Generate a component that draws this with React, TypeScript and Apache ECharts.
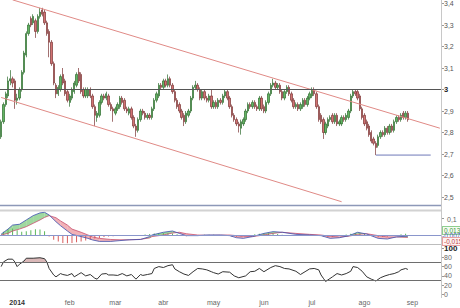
import React, { useEffect, useRef } from 'react';
import * as echarts from 'echarts';

// ---------- categories: trading days (weekdays) ----------
const firstDay = '2013-12-23';
const lastDay = '2014-09-17';
const dates: string[] = (() => {
  const out: string[] = [];
  const d = new Date(firstDay + 'T00:00:00Z');
  const end = new Date(lastDay + 'T00:00:00Z');
  while (d <= end) {
    const wd = d.getUTCDay();
    if (wd !== 0 && wd !== 6) out.push(d.toISOString().slice(0, 10));
    d.setUTCDate(d.getUTCDate() + 1);
  }
  return out;
})();
const monthNames = ['2014', 'feb', 'mar', 'abr', 'may', 'jun', 'jul', 'ago', 'sep', 'oct', 'nov', 'dic'];

// ---------- price: [open, close, low, high] ----------
const candles: number[][] = [
  [2.78, 2.85, 2.77, 2.86], [2.85, 2.93, 2.84, 2.94], [2.93, 2.98, 2.92, 2.99], [2.97, 3.04, 2.96, 3.06],
  [3.04, 3.05, 3.02, 3.09], [3.05, 3.03, 3.01, 3.06], [3.04, 2.95, 2.91, 3.05], [2.95, 2.96, 2.93, 2.98],
  [2.96, 3.00, 2.95, 3.01], [3.00, 3.08, 2.99, 3.09], [3.08, 3.17, 3.07, 3.18], [3.16, 3.26, 3.15, 3.27],
  [3.26, 3.30, 3.25, 3.31], [3.33, 3.30, 3.29, 3.34], [3.31, 3.34, 3.30, 3.35], [3.32, 3.27, 3.24, 3.33],
  [3.27, 3.34, 3.26, 3.35], [3.34, 3.36, 3.33, 3.38], [3.37, 3.35, 3.34, 3.38], [3.36, 3.31, 3.30, 3.37],
  [3.31, 3.26, 3.25, 3.32], [3.27, 3.22, 3.15, 3.28], [3.22, 3.12, 3.11, 3.23], [3.12, 3.03, 3.02, 3.13],
  [3.02, 2.98, 2.96, 3.03], [2.98, 3.01, 2.97, 3.02], [3.00, 3.06, 2.99, 3.07], [3.07, 3.03, 3.02, 3.10],
  [3.04, 2.98, 2.97, 3.05], [2.99, 2.95, 2.94, 3.00], [2.94, 2.97, 2.92, 2.98], [2.96, 3.00, 2.95, 3.01],
  [2.99, 3.03, 2.98, 3.04], [3.02, 3.07, 3.01, 3.08], [3.08, 3.04, 3.03, 3.10], [3.07, 2.99, 2.98, 3.08],
  [3.00, 2.97, 2.96, 3.01], [2.97, 3.00, 2.96, 3.01], [2.97, 3.00, 2.96, 3.01], [3.00, 2.97, 2.96, 3.01],
  [2.97, 2.92, 2.91, 2.98], [2.92, 2.88, 2.83, 2.93], [2.87, 2.89, 2.85, 2.90], [2.88, 2.94, 2.87, 2.95],
  [2.94, 2.97, 2.93, 2.98], [2.97, 2.96, 2.95, 2.98], [2.96, 2.98, 2.95, 2.99], [2.97, 2.93, 2.92, 2.98],
  [2.93, 2.91, 2.90, 2.94], [2.91, 2.90, 2.85, 2.92], [2.89, 2.91, 2.88, 2.92], [2.91, 2.93, 2.90, 2.94],
  [2.92, 2.96, 2.91, 2.97], [2.96, 2.94, 2.93, 2.97], [2.95, 2.91, 2.90, 2.96], [2.91, 2.90, 2.89, 2.92],
  [2.89, 2.91, 2.88, 2.92], [2.91, 2.87, 2.86, 2.92], [2.87, 2.83, 2.82, 2.88], [2.83, 2.81, 2.78, 2.84],
  [2.81, 2.86, 2.80, 2.87], [2.86, 2.90, 2.85, 2.91], [2.90, 2.89, 2.88, 2.91], [2.89, 2.87, 2.86, 2.90],
  [2.87, 2.88, 2.86, 2.89], [2.88, 2.87, 2.86, 2.89], [2.87, 2.91, 2.86, 2.92], [2.91, 2.95, 2.90, 2.96],
  [2.95, 2.98, 2.94, 2.99], [2.97, 3.02, 2.96, 3.03], [3.02, 3.01, 3.00, 3.03], [3.01, 3.04, 3.00, 3.05],
  [3.04, 3.02, 3.01, 3.05], [3.02, 3.05, 3.01, 3.07], [3.05, 3.02, 3.01, 3.06], [3.02, 2.99, 2.98, 3.03],
  [2.99, 2.95, 2.94, 3.00], [2.95, 2.92, 2.91, 2.96], [2.93, 2.90, 2.89, 2.94], [2.90, 2.87, 2.86, 2.91],
  [2.88, 2.85, 2.83, 2.89], [2.85, 2.89, 2.84, 2.90], [2.88, 2.90, 2.87, 2.91], [2.90, 2.96, 2.89, 2.97],
  [2.96, 3.01, 2.95, 3.02], [3.01, 3.02, 3.00, 3.04], [3.02, 3.00, 2.99, 3.03], [3.00, 2.96, 2.95, 3.01],
  [2.96, 2.99, 2.95, 3.00], [2.99, 2.96, 2.95, 3.00], [2.96, 2.95, 2.94, 2.97], [2.95, 2.97, 2.94, 2.98],
  [2.97, 2.92, 2.91, 3.00], [2.92, 2.94, 2.91, 2.95], [2.94, 2.92, 2.91, 2.95], [2.92, 2.95, 2.91, 2.96],
  [2.95, 2.94, 2.93, 2.96], [2.94, 2.97, 2.93, 2.98], [2.97, 2.99, 2.96, 3.00], [2.99, 2.96, 2.95, 3.00],
  [2.96, 2.92, 2.91, 2.97], [2.92, 2.88, 2.87, 2.93], [2.88, 2.86, 2.85, 2.89], [2.86, 2.84, 2.83, 2.87],
  [2.84, 2.83, 2.80, 2.85], [2.82, 2.85, 2.79, 2.86], [2.84, 2.86, 2.83, 2.87], [2.86, 2.90, 2.85, 2.91],
  [2.90, 2.93, 2.89, 2.94], [2.93, 2.92, 2.91, 2.94], [2.92, 2.94, 2.91, 2.95], [2.94, 2.92, 2.91, 2.95],
  [2.92, 2.91, 2.90, 2.93], [2.91, 2.96, 2.90, 2.97], [2.96, 2.91, 2.90, 2.97], [2.92, 2.90, 2.89, 2.93],
  [2.90, 2.94, 2.89, 2.95], [2.94, 2.98, 2.93, 2.99], [2.98, 3.02, 2.97, 3.03], [3.02, 3.03, 3.01, 3.05],
  [3.03, 3.01, 3.00, 3.04], [3.01, 3.02, 3.00, 3.03], [3.02, 2.99, 2.98, 3.03], [2.99, 2.96, 2.95, 3.00],
  [2.96, 2.99, 2.95, 3.00], [2.99, 3.01, 2.98, 3.02], [3.01, 2.98, 2.97, 3.02], [2.98, 2.95, 2.94, 2.99],
  [2.95, 2.92, 2.91, 2.96], [2.92, 2.93, 2.91, 2.94], [2.93, 2.91, 2.90, 2.94], [2.91, 2.93, 2.90, 2.94],
  [2.92, 2.95, 2.91, 2.96], [2.95, 2.93, 2.92, 2.96], [2.93, 2.96, 2.92, 2.97], [2.96, 2.98, 2.95, 2.99],
  [2.97, 3.00, 2.96, 3.01], [3.00, 2.98, 2.97, 3.01], [2.98, 2.92, 2.91, 2.99], [2.92, 2.86, 2.85, 2.93],
  [2.88, 2.85, 2.84, 2.89], [2.86, 2.80, 2.77, 2.87], [2.80, 2.84, 2.79, 2.85], [2.83, 2.86, 2.82, 2.87],
  [2.86, 2.87, 2.85, 2.88], [2.88, 2.85, 2.84, 2.89], [2.85, 2.88, 2.84, 2.89], [2.88, 2.84, 2.83, 2.89],
  [2.84, 2.85, 2.83, 2.86], [2.84, 2.87, 2.83, 2.88], [2.87, 2.86, 2.85, 2.88], [2.86, 2.88, 2.85, 2.89],
  [2.87, 2.90, 2.86, 2.91], [2.90, 2.97, 2.89, 2.98], [2.97, 2.99, 2.96, 3.00], [2.99, 2.98, 2.97, 3.00],
  [2.99, 2.96, 2.95, 3.00], [2.97, 2.91, 2.90, 2.98], [2.91, 2.87, 2.86, 2.92], [2.88, 2.84, 2.83, 2.89],
  [2.85, 2.82, 2.81, 2.86], [2.83, 2.79, 2.78, 2.84], [2.80, 2.76, 2.75, 2.81], [2.77, 2.75, 2.74, 2.78],
  [2.75, 2.73, 2.695, 2.76], [2.74, 2.78, 2.73, 2.79], [2.78, 2.80, 2.77, 2.81], [2.80, 2.79, 2.78, 2.81],
  [2.79, 2.82, 2.78, 2.83], [2.82, 2.80, 2.79, 2.83], [2.80, 2.83, 2.79, 2.84], [2.83, 2.81, 2.80, 2.84],
  [2.81, 2.85, 2.80, 2.86], [2.85, 2.87, 2.84, 2.88], [2.87, 2.86, 2.85, 2.88], [2.86, 2.88, 2.85, 2.89],
  [2.89, 2.87, 2.86, 2.90], [2.87, 2.89, 2.86, 2.90], [2.89, 2.86, 2.85, 2.90],
];

// ---------- drawn lines on price panel: [trading-day index, price] ----------
const upperTrend = [[5, 3.417], [192, 2.82]];
const lowerTrend = [[0, 2.963], [149, 2.478]];
const supportLine = [[164, 2.695], [188, 2.695]];
const levelLine = 3.0;
const lastPrice = 2.86;

// ---------- MACD panel: [trading-day index, value] ----------
const macdLine = [
  [0, 0.005], [3, 0.037], [5, 0.062], [8, 0.067], [11, 0.094], [14, 0.121], [17, 0.138], [19, 0.142],
  [21, 0.125], [24, 0.083], [26, 0.058], [29, 0.025], [31, 0.004], [35, -0.01], [38, -0.021], [40, -0.031],
  [43, -0.04], [48, -0.04], [52, -0.035], [56, -0.03], [61, -0.028], [65, -0.01], [66, 0.0], [71, 0.017],
  [75, 0.025], [78, 0.01], [81, -0.004], [86, -0.004], [90, 0.0], [96, 0.0], [100, -0.004], [103, -0.017],
  [106, -0.021], [110, -0.01], [115, 0.01], [119, 0.021], [123, 0.017], [129, 0.004], [135, 0.0], [140, -0.004],
  [144, -0.021], [148, -0.017], [152, -0.005], [156, 0.017], [160, 0.006], [165, -0.021], [169, -0.025], [173, -0.012],
  [178, -0.007],
];
const signalLine = [
  [0, 0.0], [3, 0.01], [5, 0.025], [8, 0.037], [11, 0.052], [14, 0.073], [17, 0.094], [19, 0.11],
  [21, 0.121], [24, 0.108], [26, 0.088], [29, 0.062], [31, 0.037], [35, 0.017], [38, 0.0], [40, -0.012],
  [43, -0.021], [48, -0.028], [52, -0.03], [56, -0.03], [61, -0.027], [65, -0.018], [66, -0.01], [71, 0.0],
  [75, 0.0125], [78, 0.017], [81, 0.008], [86, 0.0], [90, -0.002], [96, -0.001], [100, 0.0], [103, -0.004],
  [106, -0.008], [110, -0.01], [115, 0.0], [119, 0.01], [123, 0.017], [129, 0.01], [135, 0.004], [140, 0.0],
  [144, -0.008], [148, -0.012], [152, -0.008], [156, 0.004], [160, 0.008], [165, -0.004], [169, -0.012], [173, -0.012],
  [178, -0.015],
];
const macdHist = [
  [1, 0.02], [3, 0.035], [5, 0.04], [7, 0.03], [9, 0.02], [11, 0.024], [13, 0.03], [15, 0.036], [17, 0.034], [19, 0.024],
  [21, -0.01], [23, -0.03], [25, -0.04], [27, -0.05], [29, -0.052], [31, -0.05], [33, -0.046], [35, -0.04], [37, -0.034],
  [39, -0.028], [41, -0.022], [43, -0.018], [45, -0.013], [47, -0.01], [49, -0.008], [51, -0.006], [53, -0.004],
  [55, -0.003], [57, -0.002], [59, -0.002], [61, -0.001], [63, 0.003], [65, 0.006], [67, 0.009], [69, 0.011],
  [71, 0.012], [73, 0.011], [75, 0.009], [77, 0.004], [79, -0.005], [81, -0.008], [83, -0.007], [85, -0.005],
  [87, -0.002], [89, 0.001], [91, 0.002], [93, 0.001], [95, 0.0], [97, -0.002], [99, -0.005], [101, -0.009],
  [103, -0.011], [105, -0.01], [107, -0.007], [109, -0.002], [111, 0.004], [113, 0.008], [115, 0.01], [117, 0.011],
  [119, 0.01], [121, 0.006], [123, 0.002], [125, -0.002], [127, -0.004], [129, -0.004], [131, -0.003], [133, -0.002],
  [135, -0.002], [137, -0.003], [139, -0.006], [141, -0.01], [143, -0.012], [145, -0.011], [147, -0.008], [149, -0.004],
  [151, 0.003], [153, 0.008], [155, 0.012], [157, 0.011], [159, 0.006], [161, -0.003], [163, -0.01], [165, -0.014],
  [167, -0.013], [169, -0.011], [171, -0.007], [173, -0.002], [175, 0.004], [177, 0.008],
];
const macdLabels = ['0,013', '-0,007', '-0,015'];

// ---------- RSI panel: [trading-day index, value] ----------
const rsiLine = [
  [0, 60], [1, 70], [3, 76], [5, 76], [6, 70], [7, 60], [8, 65], [10, 72], [11, 78], [14, 78], [17, 79], [19, 77],
  [20, 70], [21, 56], [23, 42], [24, 38], [26, 45], [27, 43], [29, 41], [31, 45], [32, 38], [34, 44], [35, 47],
  [37, 40], [39, 43], [41, 35], [42, 33], [44, 44], [46, 45], [47, 42], [49, 42], [51, 41], [53, 45], [55, 40],
  [57, 43], [59, 33], [61, 43], [62, 41], [64, 43], [66, 45], [67, 56], [69, 60], [71, 58], [73, 62], [75, 64],
  [76, 55], [78, 49], [80, 44], [82, 41], [84, 49], [86, 56], [88, 55], [90, 53], [92, 49], [93, 47], [95, 44],
  [97, 49], [100, 48], [102, 40], [104, 36], [107, 40], [109, 49], [111, 50], [113, 56], [115, 49], [118, 58],
  [120, 62], [122, 60], [124, 56], [126, 55], [129, 50], [131, 43], [133, 49], [135, 55], [137, 56], [139, 53],
  [140, 42], [141, 35], [142, 28], [145, 38], [147, 45], [149, 42], [151, 45], [153, 50], [154, 60], [156, 58],
  [158, 50], [160, 38], [162, 33], [164, 29], [166, 36], [168, 40], [170, 43], [172, 45], [174, 49], [175, 53],
  [177, 56], [178, 53.88],
];
const rsiHot = [[10, 72], [11, 78], [14, 78], [17, 79], [19, 77], [20, 70]];
const rsiLevels = [70, 30];
const rsiLast = 53.88;

const FONT = 'Liberation Sans, Arial, sans-serif';
const comma = (v: number, d: number) => String(Number(v.toFixed(d))).replace('.', ',');

export default function App() {
  const ref = useRef<HTMLDivElement>(null);
  useEffect(() => {
    if (!ref.current) return;
    const chart = echarts.init(ref.current, undefined, { renderer: 'svg' });

    const labelIdx = new Set<number>();
    dates.forEach((d, i) => {
      if (i > 0 && d.slice(5, 7) !== dates[i - 1].slice(5, 7)) labelIdx.add(i);
    });

    const xAxes = [0, 1, 2].map((g) => ({
      type: 'category',
      gridIndex: g,
      data: dates,
      boundaryGap: true,
      axisLine: { show: false },
      axisTick: { show: false },
      splitLine: { show: false },
      axisLabel:
        g === 2
          ? {
              show: true,
              interval: (i: number) => labelIdx.has(i),
              fontSize: 7,
              color: '#666',
              margin: 4,
              fontFamily: FONT,
              formatter: (v: string) => {
                const m = Number(v.slice(5, 7)) - 1;
                return m === 0 ? '{y|' + v.slice(0, 4) + '}' : monthNames[m];
              },
              rich: { y: { fontWeight: 'bold', color: '#333', fontSize: 7, fontFamily: FONT } },
            }
          : { show: false },
    }));

    const tick = { show: true, length: 3, lineStyle: { color: '#999', width: 1 } };
    const baseLabel = { fontSize: 7, color: '#666', margin: 3, fontFamily: FONT };

    const up = '#62b462';
    const upBorder = '#2e6b2e';
    const down = '#d27272';
    const downBorder = '#7a3434';

    const gridBase = { left: 0, right: 19, containLabel: false, outerBoundsMode: 'none' };

    const option: any = {
      animation: false,
      backgroundColor: '#ffffff',
      grid: [
        { ...gridBase, top: -18, height: 236.5 },
        { ...gridBase, top: 203, height: 48 },
        { ...gridBase, top: 248, height: 46.5 },
      ],
      xAxis: xAxes,
      yAxis: [
        {
          type: 'value', gridIndex: 0, position: 'right', min: 2.4, max: 3.5, interval: 0.1,
          splitLine: { show: false }, axisLine: { show: false }, axisTick: tick,
          axisLabel: {
            ...baseLabel, color: '#555',
            formatter: (v: number) => {
              if (v < 2.45 || v > 3.45) return '';
              const s = comma(v, 1);
              return Math.abs(v - Math.round(v)) < 1e-6 ? '{b|' + s + '}' : s;
            },
            rich: { b: { fontWeight: 'bold', color: '#222', fontSize: 7.5, fontFamily: FONT } },
          },
        },
        {
          type: 'value', gridIndex: 1, position: 'right', min: -0.1, max: 0.2, interval: 0.1,
          splitLine: { show: false }, axisLine: { show: false }, axisTick: { show: false },
          axisLabel: {
            ...baseLabel, margin: 6,
            formatter: (v: number) => (Math.abs(v - 0.1) < 1e-6 ? comma(v, 1) : ''),
          },
        },
        {
          type: 'value', gridIndex: 2, position: 'right', min: 0, max: 100, interval: 20,
          splitLine: { show: false }, axisLine: { show: false }, axisTick: tick,
          axisLabel: {
            ...baseLabel,
            formatter: (v: number) => (v === 100 ? '{b|100}' : String(v)),
            rich: { b: { fontWeight: 'bold', color: '#222', fontSize: 8, fontFamily: FONT } },
          },
        },
      ],
      graphic: [
        { type: 'line', z: 50, shape: { x1: 0, y1: 205.5, x2: 441, y2: 205.5 }, style: { stroke: '#8d98b8', lineWidth: 1.5 } },
        { type: 'line', z: 50, shape: { x1: 0, y1: 210.5, x2: 441, y2: 210.5 }, style: { stroke: '#d2d2d2', lineWidth: 2 } },
        { type: 'line', z: 50, shape: { x1: 0, y1: 244.5, x2: 441, y2: 244.5 }, style: { stroke: '#bdbdbd', lineWidth: 1 } },
        { type: 'line', z: 50, shape: { x1: 441.5, y1: 0, x2: 441.5, y2: 298 }, style: { stroke: '#c8c8c8', lineWidth: 1 } },
        {
          type: 'text', z: 60, left: 442, top: 226,
          style: { text: macdLabels[0], fontSize: 6.5, fontFamily: FONT, fill: '#3f9a3f', backgroundColor: '#f4fbf1', borderColor: '#8fcf8f', borderWidth: 1, padding: [0, 1] },
        },
        {
          type: 'text', z: 60, left: 442, top: 231.5,
          style: { text: macdLabels[1], fontSize: 6.5, fontFamily: FONT, fill: '#4b5cb8' },
        },
        {
          type: 'text', z: 60, left: 442, top: 237,
          style: { text: macdLabels[2], fontSize: 6.5, fontFamily: FONT, fill: '#c24848', backgroundColor: '#fdf2f2', borderColor: '#e7a0a0', borderWidth: 1, padding: [0, 1] },
        },
      ],
      series: [
        {
          type: 'candlestick',
          xAxisIndex: 0, yAxisIndex: 0,
          data: candles,
          barWidth: '82%',
          itemStyle: { color: up, color0: down, borderColor: upBorder, borderColor0: downBorder, borderWidth: 0.7 },
          markLine: {
            silent: true,
            symbol: ['none', 'none'],
            animation: false,
            label: { show: false },
            data: [
              [
                { coord: [dates[upperTrend[0][0]], upperTrend[0][1]] },
                { coord: [dates[upperTrend[1][0]], upperTrend[1][1]] },
              ],
              [
                { coord: [dates[lowerTrend[0][0]], lowerTrend[0][1]] },
                { coord: [dates[lowerTrend[1][0]], lowerTrend[1][1]] },
              ],
              { yAxis: levelLine, lineStyle: { color: '#555', width: 1, type: 'solid' } },
              {
                yAxis: lastPrice,
                lineStyle: { opacity: 0 },
                label: {
                  show: true, position: 'end', distance: 2, formatter: comma(lastPrice, 3).padEnd(5, '0'),
                  fontSize: 7, fontFamily: FONT, color: '#222', backgroundColor: '#f1cf55', padding: [1, 1],
                },
              },
            ],
            lineStyle: { color: '#e08a86', width: 1, type: 'solid' },
          },
        },
        {
          type: 'line',
          xAxisIndex: 0, yAxisIndex: 0,
          data: supportLine,
          symbol: 'none',
          silent: true,
          lineStyle: { color: '#6f79b8', width: 1 },
        },
        {
          type: 'bar',
          xAxisIndex: 1, yAxisIndex: 1,
          data: macdHist,
          barWidth: 1,
          itemStyle: { color: (p: any) => (p.value[1] >= 0 ? '#5db85d' : '#d85c5c') },
        },
        {
          type: 'custom',
          xAxisIndex: 1, yAxisIndex: 1,
          data: macdLine.slice(0, -1),
          encode: { x: 0, y: 1 },
          renderItem: (params: any, api: any) => {
            const j = params.dataIndex;
            const a = macdLine[j], b = macdLine[j + 1], c = signalLine[j], e = signalLine[j + 1];
            if (!b || !e) return null;
            const green = 'rgba(95,190,95,0.6)';
            const red = 'rgba(228,100,110,0.5)';
            const d1 = a[1] - c[1];
            const d2 = b[1] - e[1];
            const p1 = api.coord([a[0], a[1]]);
            const p2 = api.coord([b[0], b[1]]);
            const p3 = api.coord([e[0], e[1]]);
            const p4 = api.coord([c[0], c[1]]);
            if (d1 * d2 < 0) {
              const t = d1 / (d1 - d2);
              const pm = [p1[0] + t * (p2[0] - p1[0]), p1[1] + t * (p2[1] - p1[1])];
              return {
                type: 'group',
                children: [
                  { type: 'polygon', shape: { points: [p1, pm, p4] }, style: { fill: d1 >= 0 ? green : red } },
                  { type: 'polygon', shape: { points: [pm, p2, p3] }, style: { fill: d2 >= 0 ? green : red } },
                ],
              };
            }
            return {
              type: 'polygon',
              shape: { points: [p1, p2, p3, p4] },
              style: { fill: d1 + d2 >= 0 ? green : red },
            };
          },
          markLine: {
            silent: true, symbol: ['none', 'none'], label: { show: false },
            data: [{ yAxis: 0 }],
            lineStyle: { color: '#8a96cc', width: 1, type: 'solid' },
          },
        },
        {
          type: 'line', xAxisIndex: 1, yAxisIndex: 1, data: signalLine, symbol: 'none',
          lineStyle: { color: '#c8506e', width: 0.8 },
        },
        {
          type: 'line', xAxisIndex: 1, yAxisIndex: 1, data: macdLine, symbol: 'none',
          lineStyle: { color: '#3b4fae', width: 0.8 },
        },
        {
          type: 'line', xAxisIndex: 2, yAxisIndex: 2, data: rsiHot, symbol: 'none',
          lineStyle: { opacity: 0 },
          areaStyle: { origin: 70, color: 'rgba(160,70,70,0.55)' },
        },
        {
          type: 'line', xAxisIndex: 2, yAxisIndex: 2, data: rsiLine, symbol: 'none',
          lineStyle: { color: '#333', width: 1 },
          markLine: {
            silent: true, symbol: ['none', 'none'],
            data: [
              ...rsiLevels.map((v) => ({ yAxis: v, label: { show: false } })),
              {
                yAxis: rsiLast,
                lineStyle: { opacity: 0 },
                label: {
                  show: true, position: 'end', distance: 2, formatter: comma(rsiLast, 2),
                  fontSize: 7, fontFamily: FONT, color: '#444', backgroundColor: '#fff',
                  borderColor: '#999', borderWidth: 1, padding: [0, 1],
                },
              },
            ],
            lineStyle: { color: '#6e6e6e', width: 1, type: 'solid' },
          },
        },
      ],
    };
    chart.setOption(option);
    return () => chart.dispose();
  }, []);
  return <div ref={ref} style={{ position: 'fixed', left: 0, top: 0, width: 460, height: 308 }} />;
}
